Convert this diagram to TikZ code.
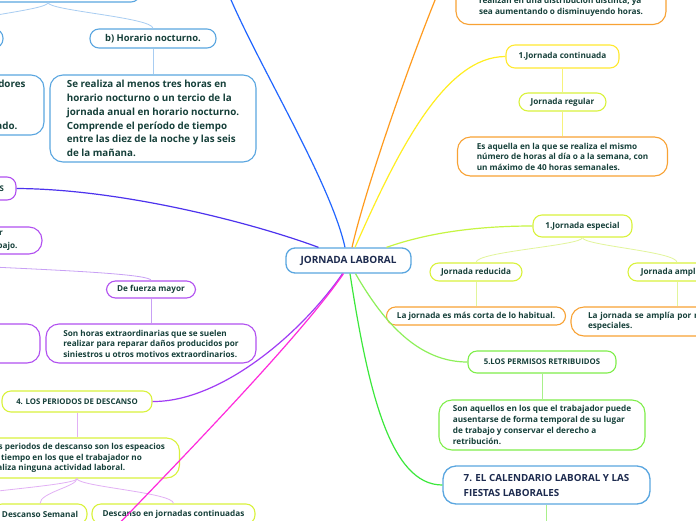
\documentclass[tikz,border=0pt]{standalone}
\usepackage{fontspec}
\setmainfont{Open Sans}

\definecolor{ink}{HTML}{16403A}
\definecolor{navy}{HTML}{1D2B4F}
\definecolor{bdblue}{HTML}{5AA6E0}
\definecolor{bdpurple}{HTML}{B150F0}
\definecolor{bdlime}{HTML}{D9F23D}
\definecolor{bdyellow}{HTML}{FFE930}
\definecolor{bdorange}{HTML}{F8A234}
\definecolor{bdgreen}{HTML}{7FEE4A}
\definecolor{lnblue}{HTML}{2266FF}
\definecolor{lnorange}{HTML}{FF9B1E}
\definecolor{lnyellow}{HTML}{FFEE22}
\definecolor{lnlime}{HTML}{C6F542}
\definecolor{lnindigo}{HTML}{4D33EE}
\definecolor{lnpurple}{HTML}{A03CF5}
\definecolor{lnmagenta}{HTML}{FF2BDC}
\definecolor{lngreen}{HTML}{3CE83C}
\definecolor{lnlgreen}{HTML}{8EF05A}
\definecolor{sbblue}{HTML}{A8CDF2}
\definecolor{sbpurple}{HTML}{C8A0F5}
\definecolor{sbmauve}{HTML}{E2B0F5}
\definecolor{sbyellow}{HTML}{F7F27A}
\definecolor{sblime}{HTML}{E2F59A}
\definecolor{sbgreen}{HTML}{A8F08A}

\begin{document}
\begin{tikzpicture}[x=1pt, y=-1pt,
    every node/.style = {draw, fill=white, line width=1.1pt, rounded corners=9pt,
        inner sep=0pt, text=ink, font=\bfseries\fontsize{8.2}{10.5}\selectfont},
    note/.style   = {rounded corners=13pt, align=left},
    frag/.style   = {draw=none, fill=none},
    big/.style    = {font=\bfseries\fontsize{9.8}{13.8}\selectfont},
    caps/.style   = {font=\bfseries\fontsize{7.8}{10}\selectfont},
    main/.style   = {line width=1.2pt},
    sub/.style    = {line width=0.8pt}
]
\useasboundingbox (0,0) rectangle (696,520);
\fill[white] (0,0) rectangle (696,520);
\clip (0,0) rectangle (696,520);

% centre
\node[draw=bdblue, line width=1.3pt, text=navy, font=\bfseries\fontsize{10}{12}\selectfont,
      minimum width=125, minimum height=25] (jl) at (348.5,260.5) {JORNADA LABORAL};

% horario (top left)
\node[draw=bdblue, minimum width=184, minimum height=30] (hor) at (48,-13) {};
\node[draw=bdblue, minimum width=100, minimum height=19] (ha) at (-47,38.5) {};
\node[draw=bdblue, font=\bfseries\fontsize{9.4}{12}\selectfont, minimum width=126, minimum height=19] (hb) at (153,38.5) {b) Horario nocturno.};
\node[draw=bdblue, note, minimum width=194, minimum height=60] (hat) at (-53,105) {};
\node[frag, big, anchor=east] (hat1) at (26,84) {dores};
\node[frag, big, anchor=east] (hat2) at (18,126) {ado.};
\node[draw=bdblue, note, big, minimum width=206, minimum height=87] (hbt) at (153,118.5)
    {Se realiza al menos tres horas en\\horario nocturno o un tercio de la\\jornada anual en horario nocturno.\\Comprende el período de tiempo\\entre las diez de la noche y las seis\\de la mañana.};

\draw[sub, sbblue] (hor.south) .. controls +(0,8) and +(0,-11) .. (ha.north);
\draw[sub, sbblue] (hor.south) .. controls +(0,8) and +(0,-11) .. (hb.north);
\draw[sub, sbblue] (hb) -- (hbt);

% horas extraordinarias (left)
\node[draw=bdpurple, minimum width=170, minimum height=23] (hx) at (-69,188.5) {};
\node[frag, caps, anchor=east] (hx1) at (4.5,189) {S};
\node[draw=bdpurple, note, minimum width=190, minimum height=27] (hx2) at (-53,240.5) {};
\node[frag, anchor=east] (hx21) at (3.5,233) {r};
\node[frag, anchor=east] (hx22) at (18,246) {bajo.};
\coordinate (hxr) at (-120,258);
\node[draw=bdpurple, minimum width=89, minimum height=17] (hfm) at (151,289.5) {De fuerza mayor};
\node[draw=bdpurple, note, minimum width=210, minimum height=39] (hfmt) at (151,343.5)
    {Son horas extraordinarias que se suelen\\realizar para reparar daños producidos por\\siniestros u otros motivos extraordinarios.};
\node[draw=bdpurple, note, minimum width=190, minimum height=39] (hx3) at (-55,343.5) {};

\draw[sub, sbpurple] (hxr) .. controls +(0,8) and +(0,-11) .. (hfm.north);
\draw[sub, sbpurple] (hfm) -- (hfmt);

% periodos de descanso
\node[draw=bdlime, caps, minimum width=150, minimum height=21] (pd) at (77,401.5) {4. LOS PERIODOS DE DESCANSO};
\node[draw=bdlime, note, minimum width=205, minimum height=40] (pdt) at (77,458)
    {Los periodos de descanso son los espeacios\\de tiempo en los que el trabajador no\\realiza ninguna actividad laboral.};
\coordinate (dsl) at (-75,505);
\node[draw=bdlime, minimum width=94, minimum height=20] (ds) at (40,514) {Descanso Semanal};
\node[draw=bdlime, minimum width=163, minimum height=20] (dj) at (173.5,514) {Descanso en jornadas continuadas};

\draw[sub, sbmauve] (pd) -- (pdt);
\draw[sub, sbmauve] (pdt.south) .. controls +(0,8) and +(0,-11) .. (dsl);
\draw[sub, sbmauve] (pdt.south) .. controls +(0,8) and +(0,-11) .. (ds.north);
\draw[sub, sbmauve] (pdt.south) .. controls +(0,8) and +(0,-11) .. (dj.north);

% distribucion / jornada continuada (top right)
\node[draw=bdorange, note, minimum width=210, minimum height=40] (dst) at (561,4.5)
    {\mbox{}\\realizan en una distribución distinta, ya\\sea aumentando o disminuyendo horas.};
\node[draw=bdyellow, minimum width=113, minimum height=23] (jc) at (562.5,56.5) {1.Jornada continuada};
\node[draw=bdlime, minimum width=87, minimum height=18] (jr) at (562.5,102) {Jornada regular};
\node[draw=bdorange, note, minimum width=210, minimum height=39] (jrt) at (562.5,156.5)
    {Es aquella en la que se realiza el mismo\\número de horas al día o a la semana, con\\un máximo de 40 horas semanales.};

\draw[sub, sbyellow] (jc) -- (jr);
\draw[sub, sbyellow] (jr) -- (jrt);

% jornada especial
\node[draw=bdlime, minimum width=99, minimum height=22] (je) at (582.5,226) {1.Jornada especial};
\node[draw=bdlime, minimum width=92, minimum height=18] (jred) at (476,272) {Jornada reducida};
\node[draw=bdlime, minimum width=98, minimum height=18] (jamp) at (677,272) {Jornada ampliada};
\node[draw=bdorange, minimum width=179, minimum height=18] (jredt) at (476,316) {La jornada es más corta de lo habitual.};
\node[draw=bdorange, note, text width=176, inner xsep=17, minimum height=29] (jampt) at (676,321.5)
    {La jornada se amplía por motivos\\especiales.};

\draw[sub, sblime] (je.south) .. controls +(0,8) and +(0,-11) .. (jred.north);
\draw[sub, sblime] (je.south) .. controls +(0,8) and +(0,-11) .. (jamp.north);
\draw[sub, sblime] (jred) -- (jredt);
\draw[sub, sblime] (jamp.south) -- (jamp.south|-jampt.north);

% permisos
\node[draw=bdgreen, caps, minimum width=148, minimum height=22] (pr) at (542,362) {5.LOS PERMISOS RETRIBUIDOS};
\node[draw=bdgreen, note, minimum width=206, minimum height=50,
      font=\bfseries\fontsize{8.2}{11}\selectfont] (prt) at (542,425)
    {Son aquellos en los que el trabajador puede\\ausentarse de forma temporal de su lugar\\de trabajo y conservar el derecho a\\retribución.};
\draw[sub, sbgreen] (pr) -- (prt);

% calendario
\node[draw=bdblue, note, line width=1.3pt, text=navy, font=\bfseries\fontsize{9.8}{15}\selectfont,
      minimum width=207, minimum height=38] (cal) at (546.5,485)
    {7. EL CALENDARIO LABORAL Y LAS\\FIESTAS LABORALES};
\coordinate (calb) at (546.5,540);
\draw[sub, sbgreen] (cal) -- (calb);

% main branches
\coordinate (topb) at (226,-12);
\coordinate (topo) at (440,-12);
\coordinate (mg) at (108,535);
\draw[main, lnblue] ([xshift=-3.5]jl.north) .. controls (330,180) and (255,60) .. (topb);
\draw[main, lnorange] ([xshift=3.5]jl.north) .. controls (365,190) and (410,60) .. (topo);
\draw[main, lnyellow] ([xshift=6.5]jl.north) .. controls (398,150) and (445,56.5) .. (jc.west);
\draw[main, lnlime] ([xshift=38]jl.north) .. controls (430,232) and (480,226) .. (je.west);
\draw[main, lnindigo] ([xshift=-30]jl.north) .. controls (250,222) and (120,189) .. (hx.east);
\draw[main, lnpurple] ([xshift=-6]jl.south) .. controls (300,335) and (220,402) .. (pd.east);
\draw[main, lnmagenta] ([xshift=-5]jl.south) .. controls (305,330) and (200,440) .. (mg);
\draw[main, lngreen] ([xshift=1.5]jl.south) .. controls (368,390) and (390,485) .. (cal.west);
\draw[main, lnlgreen] ([xshift=7]jl.south) .. controls (385,325) and (420,362) .. (pr.west);

\end{tikzpicture}
\end{document}
